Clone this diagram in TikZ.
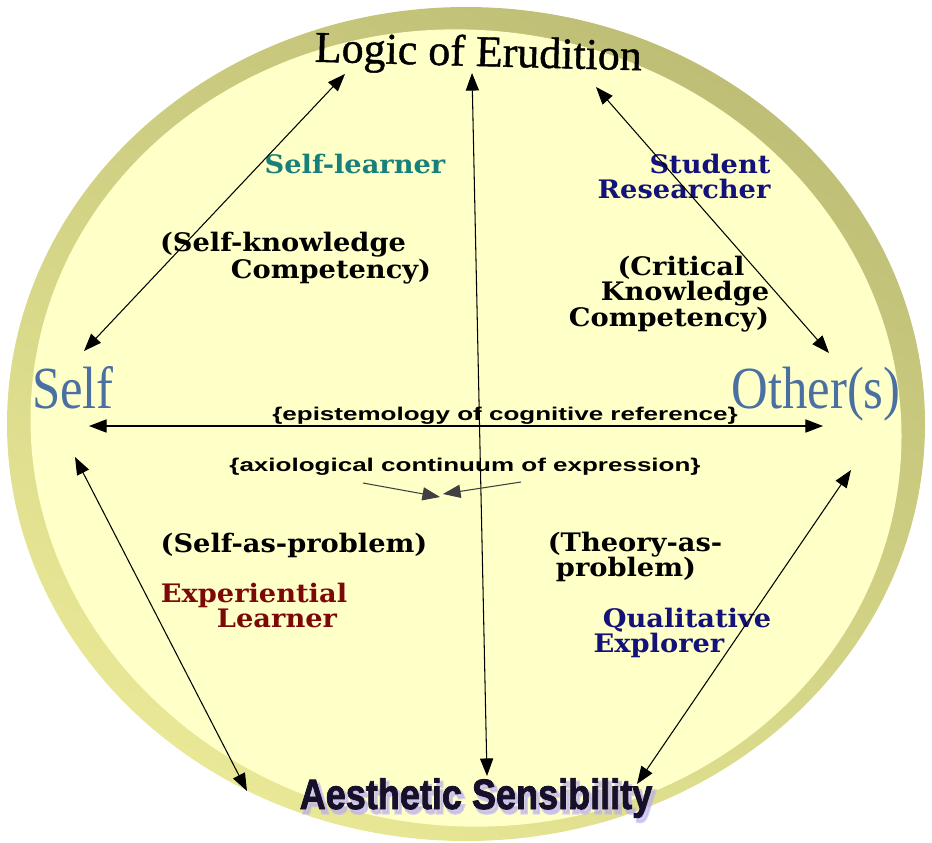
\documentclass[tikz,border=0pt]{standalone}
\usepackage{fontspec}
\setmainfont{Liberation Serif}
\newfontfamily\rolefont{DejaVu Serif}
\newfontfamily\axisfont{Liberation Sans}
\usetikzlibrary{arrows.meta}

\definecolor{rimdark}{RGB}{190,190,118}
\definecolor{rimlight}{RGB}{232,232,150}
\definecolor{disc}{RGB}{255,255,200}
\definecolor{poleblue}{RGB}{74,112,163}
\definecolor{tealrole}{RGB}{24,128,122}
\definecolor{navyrole}{RGB}{18,18,120}
\definecolor{redrole}{RGB}{125,8,8}
\definecolor{glow}{RGB}{185,170,240}
\definecolor{inkdark}{RGB}{22,16,42}

\begin{document}
\begin{tikzpicture}[x=0.02cm,y=-0.02cm,>={Triangle[length=10pt,width=7.5pt]},line width=0.6pt,
  pole node/.style={inner sep=0pt,anchor=base,text=poleblue,font=\fontsize{34}{34}\selectfont,xscale=0.85},
  title node/.style={inner sep=0pt,anchor=base,font=\fontsize{25}{25}\selectfont\addfontfeature{FakeBold=1}},
  aesth node/.style={inner sep=0pt,anchor=base,text=inkdark,font=\axisfont\bfseries\fontsize{21.6}{22}\selectfont\addfontfeature{FakeBold=#1},xscale=0.95,yscale=1.12},
  role node/.style={inner sep=0pt,anchor=base,font=\rolefont\bfseries\fontsize{14.5}{15}\selectfont,xscale=1.07},
  axis node/.style={inner sep=0pt,anchor=base,font=\axisfont\bfseries\fontsize{10.5}{11}\selectfont,xscale=1.41}]
  \useasboundingbox (0,0) rectangle (932,842);

  % the disc
  \shade[top color=rimdark,bottom color=rimlight,shading angle=-30] (466,424) ellipse [x radius=459,y radius=417];
  \fill[disc,rotate around={-7:(466,428)}] (466,428) ellipse [x radius=436,y radius=398];

  % poles
  \node[title node,rotate=-1.5] (logic) at (478,66) {Logic of Erudition};
  \node[aesth node=7,text=glow,opacity=0.55] (glow) at (479,813) {Aesthetic Sensibility};
  \node[aesth node=2] (aesth) at (476,809) {Aesthetic Sensibility};
  \node[pole node] (self) at (73,408) {Self};
  \node[pole node] (others) at (816,408) {Other(s)};

  % roles and competencies
  \node[role node,text=tealrole] (learner) at (355,173) {Self-learner};
  \node[role node] (skA) at (283,251) {(Self-knowledge};
  \node[role node] (skB) at (331,278) {Competency)};
  \node[role node,text=navyrole] (studA) at (710,173) {Student};
  \node[role node,text=navyrole] (studB) at (684,198) {Researcher};
  \node[role node] (ckA) at (681,275) {(Critical};
  \node[role node] (ckB) at (685,300) {Knowledge};
  \node[role node] (ckC) at (669,326) {Competency)};
  \node[role node] (sap) at (294,552) {(Self-as-problem)};
  \node[role node,text=redrole] (expA) at (254,602) {Experiential};
  \node[role node,text=redrole] (expB) at (277,627) {Learner};
  \node[role node] (tapA) at (635,551) {(Theory-as-};
  \node[role node] (tapB) at (626,576) {problem)};
  \node[role node,text=navyrole] (qualA) at (687,627) {Qualitative};
  \node[role node,text=navyrole] (qualB) at (659,652) {Explorer};

  % continua
  \node[axis node] (episteme) at (505,420) {\{epistemology of cognitive reference\}};
  \node[axis node] (axiology) at (465,471) {\{axiological continuum of expression\}};

  % arrow ends
  \coordinate (lgL) at (345,74);
  \coordinate (sfT) at (84,351);
  \coordinate (lgM) at (472,73);
  \coordinate (asM) at (487,776);
  \coordinate (lgR) at (596,87);
  \coordinate (otT) at (829,353);
  \coordinate (sfR) at (89,426);
  \coordinate (otL) at (823,426);
  \coordinate (sfB) at (75,457);
  \coordinate (asL) at (247,791);
  \coordinate (otB) at (851,470);
  \coordinate (asR) at (637,784);
  \coordinate (axL) at (363,483);
  \coordinate (axR) at (521,482);
  \coordinate (axM1) at (440,497);
  \coordinate (axM2) at (443,494);

  \path[<->]
    (lgL) edge (sfT)
    (lgM) edge (asM)
    (lgR) edge (otT)
    (sfR) edge (otL)
    (sfB) edge (asL)
    (otB) edge (asR);
  \path[->,black!75]
    (axL) edge (axM1)
    (axR) edge (axM2);
\end{tikzpicture}
\end{document}
